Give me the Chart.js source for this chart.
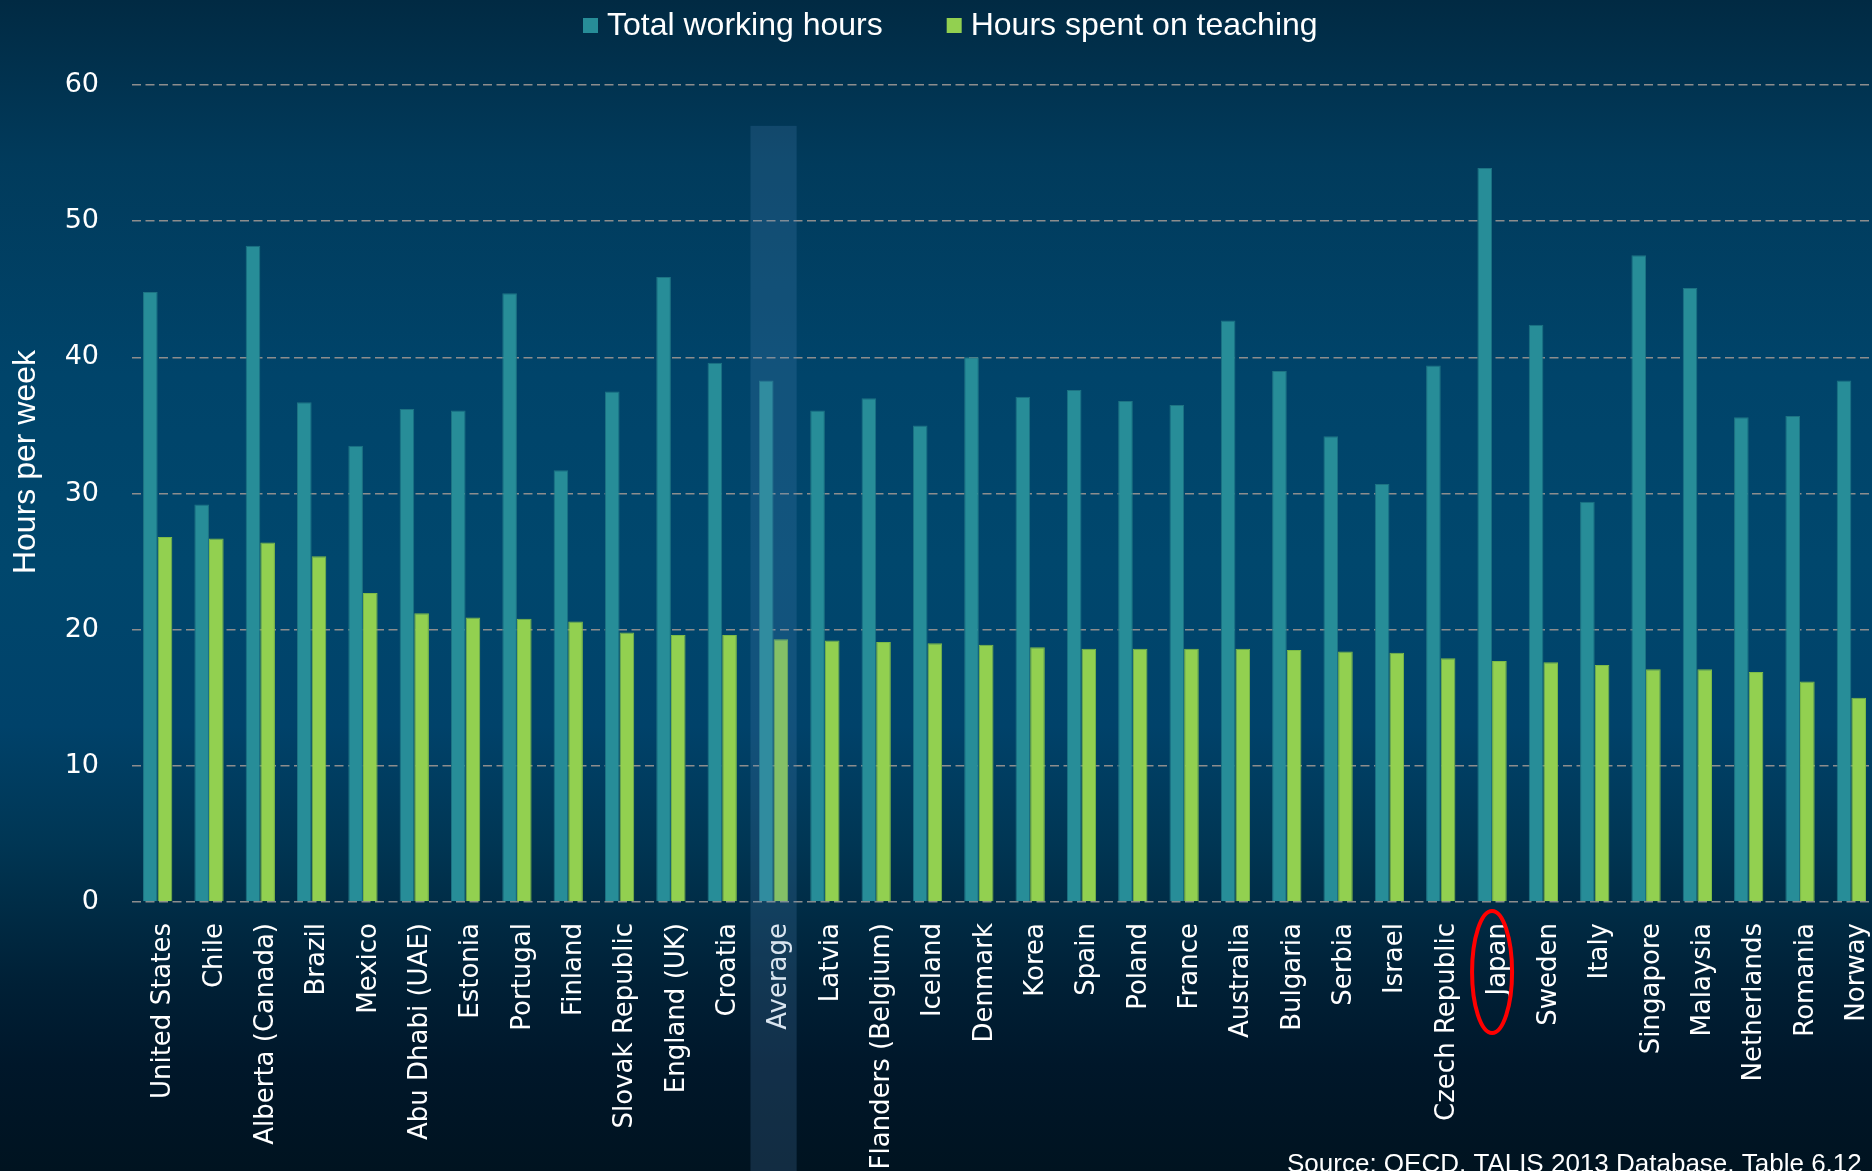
<!DOCTYPE html>
<html>
<head>
<meta charset="utf-8">
<script src="https://cdn.jsdelivr.net/npm/chart.js@4/dist/chart.umd.min.js"></script>
<style>
  html, body { margin: 0; padding: 0; width: 1872px; height: 1171px; overflow: hidden; }
  body {
    background: linear-gradient(to bottom,
      #012a43 0%, #013b5c 14%, #00446a 32%, #00476d 48%, #00426a 62%,
      #003654 72%, #002d47 77%, #002036 84%, #00172a 91%, #001320 100%);
  }
  #wrap { position: absolute; left: 0; top: 0; width: 1877px; height: 1171px; }
</style>
</head>
<body>
<div id="wrap"><canvas id="c" width="1877" height="1171"></canvas></div>
<script>
const categories = ["United States","Chile","Alberta (Canada)","Brazil","Mexico","Abu Dhabi (UAE)","Estonia","Portugal","Finland","Slovak Republic","England (UK)","Croatia","Average","Latvia","Flanders (Belgium)","Iceland","Denmark","Korea","Spain","Poland","France","Australia","Bulgaria","Serbia","Israel","Czech Republic","Japan","Sweden","Italy","Singapore","Malaysia","Netherlands","Romania","Norway"];
const totalHours = [44.8,29.2,48.2,36.7,33.5,36.2,36.1,44.7,31.7,37.5,45.9,39.6,38.3,36.1,37.0,35.0,40.0,37.1,37.6,36.8,36.5,42.7,39.0,34.2,30.7,39.4,53.9,42.4,29.4,47.5,45.1,35.6,35.7,38.3];
const teachingHours = [26.8,26.7,26.4,25.4,22.7,21.2,20.9,20.8,20.6,19.8,19.6,19.6,19.3,19.2,19.1,19.0,18.9,18.7,18.6,18.6,18.6,18.6,18.5,18.4,18.3,17.9,17.7,17.6,17.4,17.1,17.1,16.9,16.2,15.0];
const seriesNames = ["Total working hours","Hours spent on teaching"];
const yAxisTitle = "Hours per week";
const sourceText = "Source: OECD, TALIS 2013 Database, Table 6.12";
const highlightCategory = "Average";
const circledCategory = "Japan";
const yMin = 0, yMax = 60, yStep = 10;

const TEAL = '#278d98', GREEN = '#92d050';

const decor = {
  id: 'decor',
  afterDatasetsDraw(chart) {
    const {ctx, scales: {x, y}} = chart;
    const cw = x.getPixelForValue(1) - x.getPixelForValue(0);
    const cx = x.getPixelForValue(categories.indexOf(highlightCategory));
    const top = y.getPixelForValue(57);
    ctx.save();
    ctx.fillStyle = 'rgba(80,135,185,0.22)';
    ctx.fillRect(cx - cw * 0.45, top, cw * 0.9, chart.height - top);
    ctx.restore();
  },
  afterDraw(chart) {
    const {ctx, scales: {x}} = chart;
    ctx.save();
    // red ellipse around Japan label
    const jx = x.getPixelForValue(categories.indexOf(circledCategory));
    ctx.strokeStyle = '#ff0000';
    ctx.lineWidth = 4;
    ctx.beginPath();
    ctx.ellipse(jx, 972, 20, 61, 0, 0, Math.PI * 2);
    ctx.stroke();

    // legend
    ctx.font = '32px "Liberation Sans", Arial, sans-serif';
    ctx.textBaseline = 'alphabetic';
    ctx.textAlign = 'left';
    const colors = [TEAL, GREEN];
    let lx = 583;
    seriesNames.forEach((name, i) => {
      ctx.fillStyle = colors[i];
      ctx.fillRect(lx, 18, 15, 15);
      ctx.fillStyle = '#ffffff';
      ctx.fillText(name, lx + 24, 35);
      lx += 24 + ctx.measureText(name).width + 64;
    });

    // y-axis title
    ctx.save();
    ctx.translate(35, 462);
    ctx.rotate(-Math.PI / 2);
    ctx.textAlign = 'center';
    ctx.fillStyle = '#ffffff';
    ctx.font = '32px "Liberation Sans", Arial, sans-serif';
    ctx.fillText(yAxisTitle, 0, 0);
    ctx.restore();

    // source
    ctx.font = '26px "Liberation Sans", Arial, sans-serif';
    ctx.fillStyle = '#ffffff';
    ctx.textAlign = 'left';
    ctx.fillText(sourceText, 1287, 1172);
    ctx.restore();
  }
};

new Chart(document.getElementById('c'), {
  type: 'bar',
  data: {
    labels: categories,
    datasets: [
      { label: seriesNames[0], data: totalHours, backgroundColor: TEAL, borderColor: '#1d7383', borderWidth: 1,
        categoryPercentage: 0.571, barPercentage: 1.0 },
      { label: seriesNames[1], data: teachingHours, backgroundColor: GREEN, borderColor: '#7dbb47', borderWidth: 1,
        categoryPercentage: 0.571, barPercentage: 1.0 }
    ]
  },
  options: {
    responsive: false,
    animation: false,
    devicePixelRatio: 1,
    layout: { padding: { top: 85, right: 0, bottom: 0, left: 0 } },
    plugins: { legend: { display: false }, tooltip: { enabled: false } },
    scales: {
      x: {
        grid: { display: false, drawTicks: false },
        border: { display: false },
        ticks: {
          color: '#ffffff', autoSkip: false, minRotation: 90, maxRotation: 90, padding: 21, labelOffset: 6,
          font: { family: '"DejaVu Sans", Verdana, sans-serif', size: 26 }
        },
        afterFit(scale) { scale.height = 269; scale.paddingLeft = 0; scale.paddingRight = 0; }
      },
      y: {
        min: yMin, max: yMax,
        grid: { color: '#8d8d8d', lineWidth: 1.6, drawTicks: false },
        border: { display: false, dash: [9, 4.5] },
        ticks: {
          stepSize: yStep, color: '#ffffff', padding: 33,
          font: { family: '"DejaVu Sans", Verdana, sans-serif', size: 27 }
        },
        afterFit(scale) { scale.width = 132; scale.paddingTop = 0; scale.paddingBottom = 0; }
      }
    }
  },
  plugins: [decor]
});
</script>
</body>
</html>
